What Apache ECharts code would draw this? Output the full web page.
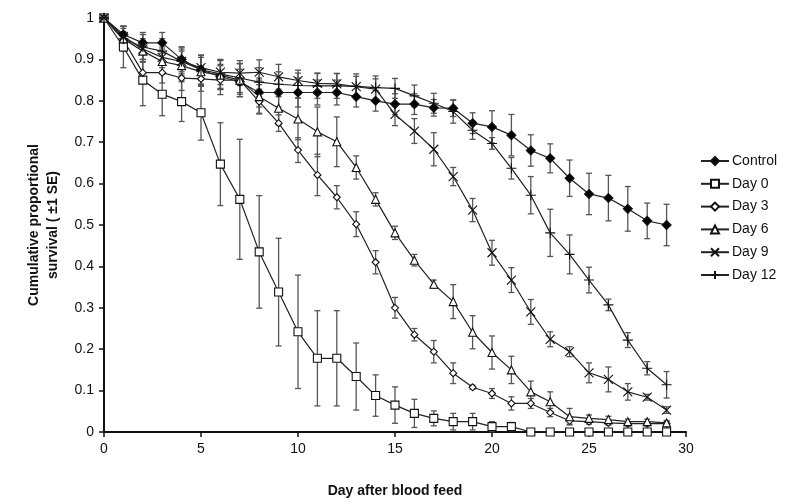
<!DOCTYPE html>
<html><head><meta charset="utf-8">
<script src="https://cdn.jsdelivr.net/npm/echarts@6/dist/echarts.min.js"></script>
<style>html,body{margin:0;padding:0;background:#fff}#c{width:807px;height:504px}</style>
</head><body><div id="c"></div>
<script>
const days = [0,1,2,3,4,5,6,7,8,9,10,11,12,13,14,15,16,17,18,19,20,21,22,23,24,25,26,27,28,29];
const xTicks = [0,5,10,15,20,25,30];
const yTicks = [0,0.1,0.2,0.3,0.4,0.5,0.6,0.7,0.8,0.9,1];
const seriesNames = ['Control','Day 0','Day 3','Day 6','Day 9','Day 12'];

const control = [1,0.96,0.94,0.94,0.90,0.875,0.858,0.846,0.82,0.82,0.82,0.82,0.82,0.81,0.80,0.792,0.792,0.783,0.782,0.746,0.737,0.717,0.68,0.661,0.613,0.575,0.565,0.539,0.51,0.50];
const controlSE = [0,0.02,0.025,0.025,0.03,0.035,0.03,0.03,0.035,0.035,0.035,0.03,0.03,0.025,0.025,0.025,0.025,0.02,0.02,0.025,0.039,0.05,0.038,0.035,0.044,0.05,0.055,0.054,0.043,0.05];

const day0 = [1,0.93,0.85,0.816,0.798,0.771,0.647,0.562,0.435,0.338,0.242,0.178,0.178,0.134,0.088,0.065,0.045,0.033,0.025,0.025,0.013,0.013,0,0,0,0,0,0,0,0];
const day0SE = [0,0.05,0.062,0.052,0.048,0.066,0.10,0.145,0.136,0.13,0.137,0.115,0.115,0.081,0.05,0.044,0.034,0.018,0.02,0.02,0.012,0.01,0,0,0,0,0,0,0,0];

const day3 = [1,0.947,0.868,0.868,0.855,0.853,0.85,0.85,0.798,0.746,0.681,0.621,0.567,0.502,0.41,0.30,0.235,0.194,0.142,0.108,0.093,0.069,0.069,0.047,0.027,0.025,0.022,0.02,0.02,0.02];
const day3SE = [0,0.02,0.025,0.025,0.03,0.03,0.035,0.04,0.03,0.02,0.03,0.05,0.028,0.03,0.028,0.025,0.015,0.027,0.025,0.005,0.012,0.016,0.012,0.01,0.008,0.006,0.005,0.005,0.005,0.005];

const day6 = [1,0.95,0.92,0.895,0.885,0.87,0.862,0.85,0.81,0.782,0.756,0.725,0.701,0.639,0.562,0.481,0.415,0.357,0.315,0.241,0.192,0.150,0.097,0.073,0.037,0.033,0.03,0.025,0.025,0.022];
const day6SE = [0,0.025,0.025,0.03,0.035,0.035,0.035,0.04,0.04,0.04,0.05,0.06,0.06,0.028,0.016,0.016,0.014,0.01,0.041,0.04,0.04,0.033,0.026,0.024,0.02,0.008,0.008,0.006,0.006,0.006];

const day9 = [1,0.955,0.925,0.905,0.895,0.88,0.869,0.867,0.869,0.858,0.849,0.842,0.841,0.834,0.828,0.767,0.727,0.683,0.617,0.536,0.433,0.367,0.29,0.224,0.194,0.143,0.127,0.097,0.084,0.053];
const day9SE = [0,0.025,0.025,0.025,0.03,0.03,0.03,0.03,0.03,0.03,0.025,0.025,0.025,0.025,0.025,0.027,0.03,0.04,0.022,0.028,0.03,0.03,0.03,0.018,0.012,0.024,0.03,0.02,0.007,0.008];

const day12 = [1,0.95,0.93,0.92,0.895,0.875,0.865,0.855,0.845,0.84,0.837,0.836,0.836,0.835,0.832,0.83,0.812,0.794,0.774,0.729,0.697,0.637,0.572,0.481,0.429,0.367,0.307,0.222,0.154,0.114];
const day12SE = [0,0.03,0.03,0.03,0.035,0.035,0.035,0.035,0.035,0.03,0.03,0.03,0.03,0.03,0.028,0.024,0.026,0.024,0.028,0.022,0.014,0.026,0.045,0.057,0.047,0.031,0.014,0.018,0.016,0.032];

const values = [control, day0, day3, day6, day9, day12];
const errors = [controlSE, day0SE, day3SE, day6SE, day9SE, day12SE];

const symbols = [
  {symbol:'diamond', size:9, fill:'#000'},
  {symbol:'rect', size:8, fill:'#fff'},
  {symbol:'diamond', size:7, fill:'#fff'},
  {symbol:'triangle', size:8, fill:'#fff'},
  {symbol:'path://M0,0L10,10M10,0L0,10', size:9, fill:'#000'},
  {symbol:'path://M5,0L5,10M0,5L10,5', size:10, fill:'#000'}
];

const chart = echarts.init(document.getElementById('c'));
const series = [];
values.forEach((vals, i) => {
  const err = errors[i];
  series.push({
    type:'custom', name: seriesNames[i] + ' SE', z: 1, silent:true,
    data: days.map((d,k) => [d, vals[k] - err[k], vals[k] + err[k]]),
    renderItem: function(params, api){
      const x = api.value(0);
      const lo = api.coord([x, api.value(1)]);
      const hi = api.coord([x, api.value(2)]);
      if (Math.abs(hi[1]-lo[1]) < 1) return null;
      const w = 3;
      const st = {stroke:'#555', lineWidth:1.3};
      return {type:'group', children:[
        {type:'line', shape:{x1:lo[0], y1:lo[1], x2:hi[0], y2:hi[1]}, style:st},
        {type:'line', shape:{x1:lo[0]-w, y1:lo[1], x2:lo[0]+w, y2:lo[1]}, style:st},
        {type:'line', shape:{x1:hi[0]-w, y1:hi[1], x2:hi[0]+w, y2:hi[1]}, style:st}
      ]};
    }
  });
});
values.forEach((vals, i) => {
  const s = symbols[i];
  series.push({
    type:'line', name: seriesNames[i], z: 3,
    data: days.map((d,k) => [d, vals[k]]),
    symbol: s.symbol, symbolSize: s.size, showAllSymbol:true,
    lineStyle:{color:'#222', width:1.2},
    itemStyle:{color:s.fill, borderColor:'#111', borderWidth:1.1},
    emphasis:{disabled:true}
  });
});

chart.setOption({
  animation:false,
  backgroundColor:'#fff',
  textStyle:{fontFamily:'Liberation Sans, Arial, sans-serif'},
  grid:{left:104, right:121, top:18, bottom:72},
  legend:{
    data: seriesNames, orient:'vertical', left:695, top:149, itemWidth:28, itemHeight:10, itemGap:8.8,
    textStyle:{fontSize:14, color:'#111', fontFamily:'Liberation Sans, Arial, sans-serif', padding:[0,0,0,-2]}
  },
  xAxis:{
    type:'value', min:xTicks[0], max:xTicks[xTicks.length-1], interval:5,
    name:'Day after blood feed', nameLocation:'middle', nameGap:52,
    nameTextStyle:{fontSize:14, fontWeight:'bold', color:'#111'},
    axisLine:{lineStyle:{color:'#111', width:2}},
    axisTick:{show:true, length:5, lineStyle:{color:'#111', width:1.5}},
    axisLabel:{fontSize:14, color:'#111', margin:10},
    splitLine:{show:false}
  },
  yAxis:{
    type:'value', min:yTicks[0], max:yTicks[yTicks.length-1], interval:0.1,
    name:'Cumulative proportional\nsurvival ( ±1 SE)', nameLocation:'middle', nameGap:41, nameRotate:90,
    nameTextStyle:{fontSize:14, fontWeight:'bold', color:'#111', lineHeight:19},
    axisLine:{show:true, lineStyle:{color:'#111', width:2}},
    axisTick:{show:true, length:5, lineStyle:{color:'#111', width:1.5}},
    axisLabel:{fontSize:14, color:'#111', margin:10, formatter: v => String(Math.round(v*10)/10)},
    splitLine:{show:false}
  },
  series: series
});
</script></body></html>
